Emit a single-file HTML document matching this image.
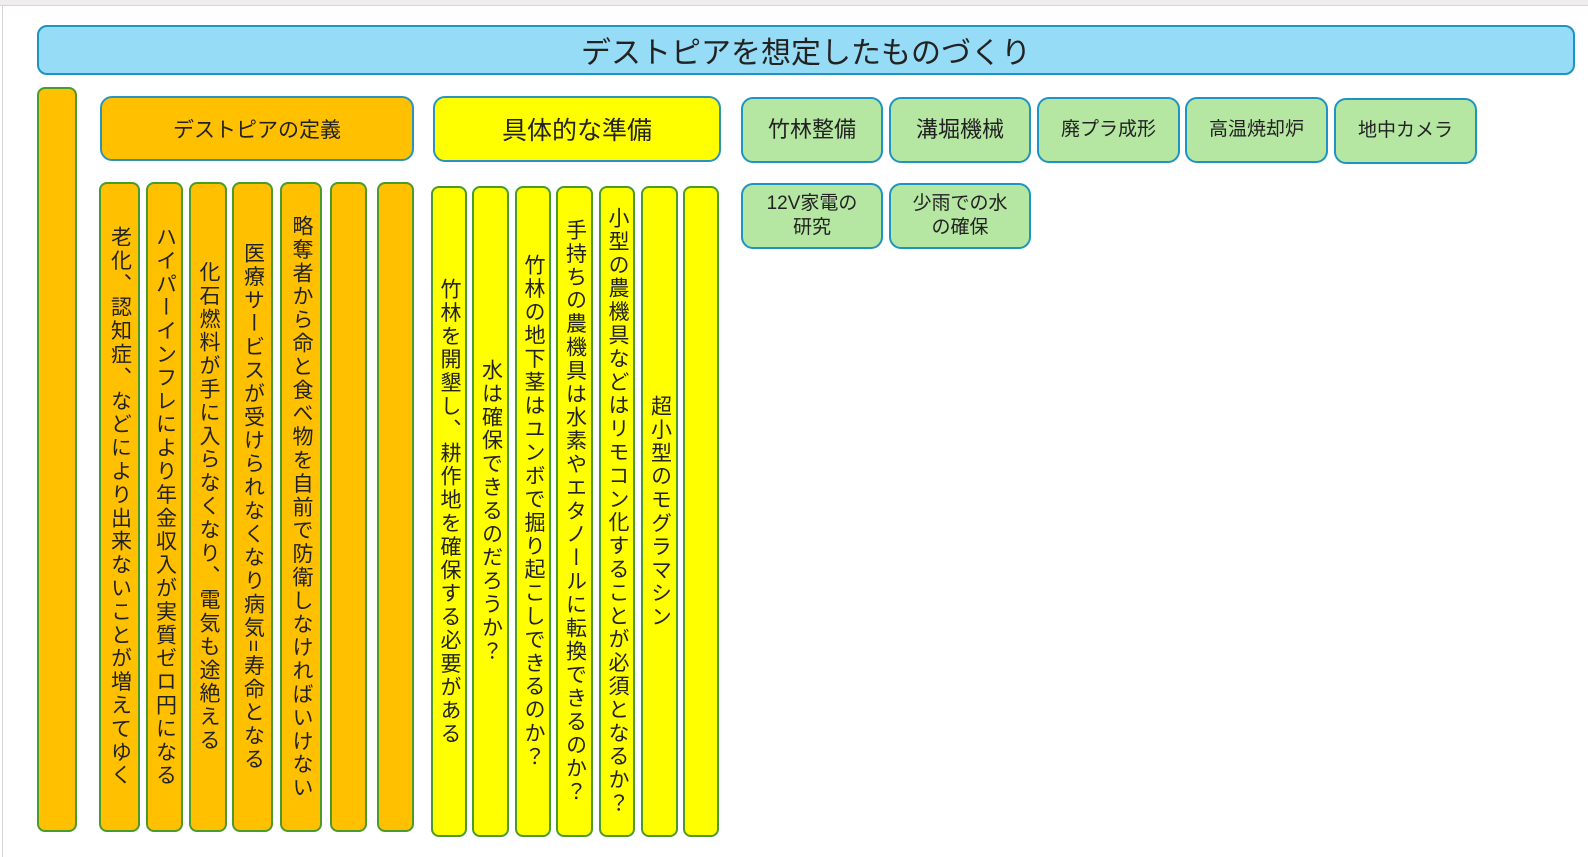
<!DOCTYPE html>
<html><head><meta charset="utf-8"><style>
html,body{margin:0;padding:0}
body{width:1588px;height:857px;position:relative;background:#fff;overflow:hidden;font-family:"Liberation Sans","Noto Sans CJK JP",sans-serif;color:#222}
.b{position:absolute;box-sizing:border-box;display:flex;align-items:center;justify-content:center;text-align:center}
.t{left:37px;top:25px;width:1538px;height:50px;background:#97dcf7;border:2px solid #1f93c2;border-radius:10px;font-size:30px}
.o{background:#ffc000;border:2px solid #4a9a2c;border-radius:8px}
.y{background:#ffff00;border:2px solid #4a9a2c;border-radius:8px}
.h{border:2px solid #2a93c0;border-radius:12px}
.g{background:#b5e6a2;border:2px solid #1f93c2;border-radius:12px;font-size:19px;line-height:24px}
.v{writing-mode:vertical-rl;font-size:21px;line-height:24px;letter-spacing:2.4px}
</style></head><body>
<div style="position:absolute;left:0;top:0;width:1588px;height:5px;background:#efeded;border-bottom:1px solid #d6d6d6"></div>
<div style="position:absolute;left:2px;top:5px;width:1px;height:852px;background:#d6d6d6"></div>
<div class="b t">デストピアを想定したものづくり</div>
<div class="b o" style="left:37px;top:87px;width:40px;height:745px"></div>
<div class="b o h" style="left:100px;top:96px;width:314px;height:65px;font-size:21px">デストピアの定義</div>
<div class="b y h" style="left:433px;top:96px;width:288px;height:66px;font-size:25px">具体的な準備</div>
<div class="b o v" style="left:99px;top:182px;width:41px;height:650px">老化、認知症、などにより出来ないことが増えてゆく</div>
<div class="b o v" style="left:146px;top:182px;width:37px;height:650px">ハイパーインフレにより年金収入が実質ゼロ円になる</div>
<div class="b o v" style="left:189px;top:182px;width:38px;height:650px">化石燃料が手に入らなくなり、電気も途絶える</div>
<div class="b o v" style="left:232px;top:182px;width:41px;height:650px">医療サービスが受けられなくなり病気=寿命となる</div>
<div class="b o v" style="left:280px;top:182px;width:42px;height:650px">略奪者から命と食べ物を自前で防衛しなければいけない</div>
<div class="b o" style="left:330px;top:182px;width:37px;height:650px"></div>
<div class="b o" style="left:377px;top:182px;width:37px;height:650px"></div>
<div class="b y v" style="left:431px;top:186px;width:36px;height:651px">竹林を開墾し、耕作地を確保する必要がある</div>
<div class="b y v" style="left:472px;top:186px;width:37px;height:651px">水は確保できるのだろうか？</div>
<div class="b y v" style="left:515px;top:186px;width:36px;height:651px">竹林の地下茎はユンボで掘り起こしできるのか？</div>
<div class="b y v" style="left:556px;top:186px;width:37px;height:651px">手持ちの農機具は水素やエタノールに転換できるのか？</div>
<div class="b y v" style="left:599px;top:186px;width:36px;height:651px">小型の農機具などはリモコン化することが必須となるか？</div>
<div class="b y v" style="left:641px;top:186px;width:37px;height:651px">超小型のモグラマシン</div>
<div class="b y" style="left:683px;top:186px;width:36px;height:651px"></div>
<div class="b g" style="left:741px;top:97px;width:142px;height:66px;font-size:22px">竹林整備</div>
<div class="b g" style="left:889px;top:97px;width:142px;height:66px;font-size:22px">溝堀機械</div>
<div class="b g" style="left:1037px;top:97px;width:143px;height:66px">廃プラ成形</div>
<div class="b g" style="left:1185px;top:97px;width:143px;height:66px">高温焼却炉</div>
<div class="b g" style="left:1334px;top:98px;width:143px;height:66px">地中カメラ</div>
<div class="b g" style="left:741px;top:183px;width:142px;height:66px">12V家電の<br>研究</div>
<div class="b g" style="left:889px;top:183px;width:142px;height:66px">少雨での水<br>の確保</div>
</body></html>
